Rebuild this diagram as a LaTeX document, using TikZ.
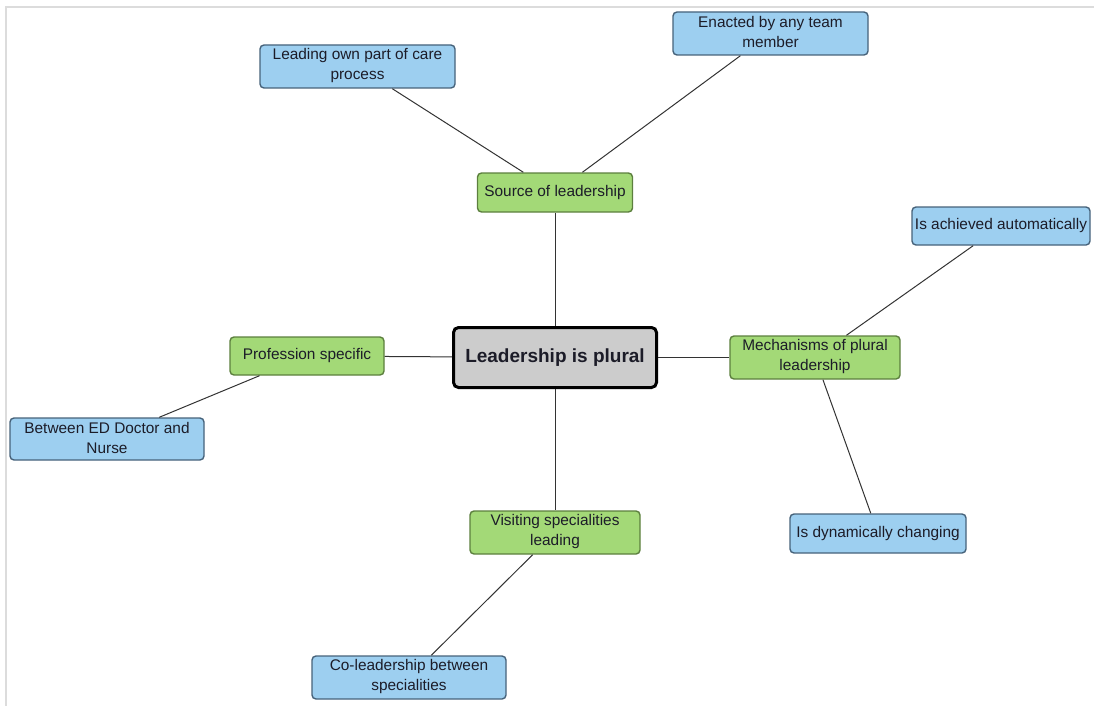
\documentclass[tikz,border=0pt]{standalone}
\usepackage{fontspec}
\setmainfont{Liberation Sans}
\begin{document}
\definecolor{leafFill}{HTML}{9DCFF0}
\definecolor{leafEdge}{HTML}{46627A}
\definecolor{branchFill}{HTML}{A3D977}
\definecolor{branchEdge}{HTML}{5C7F3E}
\definecolor{hubFill}{HTML}{CCCCCC}
\definecolor{inkText}{HTML}{1C1C28}
\definecolor{linkColor}{HTML}{333333}
\definecolor{frameColor}{HTML}{DCDCDC}
\begin{tikzpicture}[x=1pt,y=-1pt,
  basebox/.style={rounded corners=4pt, line width=1.4pt, inner sep=1pt,
    align=center, text=inkText,
    font=\fontsize{15.4}{20}\selectfont},
  leafbox/.style={basebox, fill=leafFill, draw=leafEdge},
  branchbox/.style={basebox, fill=branchFill, draw=branchEdge},
  boxtext/.style={inner sep=0pt, align=center, text=inkText,
    font=\fontsize{15.4}{20}\selectfont},
  hubbox/.style={rounded corners=5pt, line width=3pt, fill=hubFill, draw=black,
    text=inkText, font=\fontsize{19}{22}\selectfont\bfseries,
    minimum width=203pt, minimum height=60pt},
  link/.style={draw=linkColor, line width=1pt}]
\useasboundingbox (0,0) rectangle (1094,706);
% page frame
\draw[frameColor, line width=1.5pt] (6,706) -- (6,7) -- (1094,7);

% central topic
\node[hubbox] (hub) at (555,357.5) {Leadership is plural};

% first-level branches
\node[branchbox, minimum width=155pt, minimum height=39pt] (source) at (555,192.5) {Source of leadership};
\node[branchbox, minimum width=154pt, minimum height=38pt] (prof) at (307,356) {Profession specific};
\node[branchbox, minimum width=170pt, minimum height=43pt] (mech) at (815,357.5) {};
\node[boxtext] (mechtext) at ([yshift=1.2pt]mech.center) {Mechanisms of plural\\leadership};
\node[branchbox, minimum width=170pt, minimum height=43pt] (visit) at (555,532.5) {};
\node[boxtext] (visittext) at ([yshift=1.2pt]visit.center) {Visiting specialities\\leading};

% second-level leaves
\node[leafbox, minimum width=195pt, minimum height=43pt] (lead) at (357.5,66.5) {};
\node[boxtext] (leadtext) at ([yshift=1.2pt]lead.center) {Leading own part of care\\process};
\node[leafbox, minimum width=195pt, minimum height=43pt] (enact) at (770.5,33.5) {};
\node[boxtext] (enacttext) at ([yshift=1.2pt]enact.center) {Enacted by any team\\member};
\node[leafbox, minimum width=178pt, minimum height=38pt] (auto) at (1001,226) {Is achieved automatically};
\node[leafbox, minimum width=176pt, minimum height=39pt] (dyn) at (878,533.5) {Is dynamically changing};
\node[leafbox, minimum width=194pt, minimum height=42pt] (between) at (107,439) {};
\node[boxtext] (betweentext) at ([yshift=1.2pt]between.center) {Between ED Doctor and\\Nurse};
\node[leafbox, minimum width=194pt, minimum height=43pt] (colead) at (409,677.5) {};
\node[boxtext] (coleadtext) at ([yshift=1.2pt]colead.center) {Co-leadership between\\specialities};

% connectors
\path[link] (hub) -- (source);
\path[link] (hub) -- (prof);
\path[link] (hub) -- (mech);
\path[link] (hub) -- (visit);
\path[link] (source) -- (lead);
\path[link] (source) -- (enact);
\path[link] (mech) -- (auto);
\path[link] (mech) -- (dyn);
\path[link] (prof) -- (between);
\path[link] (visit) -- (colead);
\end{tikzpicture}
\end{document}
